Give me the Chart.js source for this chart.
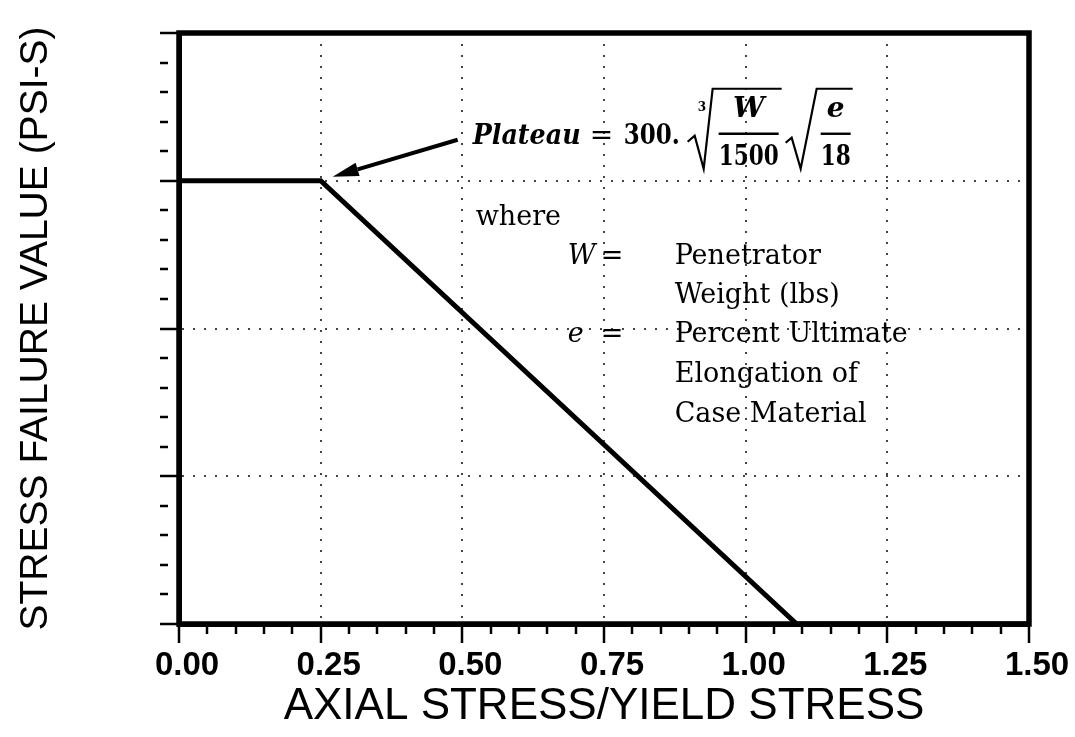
<!DOCTYPE html>
<html>
<head>
<meta charset="utf-8">
<script src="https://cdn.jsdelivr.net/npm/chart.js@4.4.0/dist/chart.umd.min.js"></script>
<style>
  html, body { margin: 0; padding: 0; background: #fff; }
  #wrap { width: 1075px; height: 737px; position: relative; }
</style>
</head>
<body>
<div id="wrap"><canvas id="chart"></canvas></div>
<script>
// stress failure value vs axial stress / yield stress
const axialRatio = [0, 0.25, 1.09, 1.5];
const failureValue = [3, 3, 0, 0];
const xTickLabels = ['0.00', '0.25', '0.50', '0.75', '1.00', '1.25', '1.50'];
const xMajorStep = 0.25;
const xMinorStep = 0.05;
const yMajorStep = 1;
const yMinorStep = 0.2;

const isMajor = (v, step) => Math.abs(v / step - Math.round(v / step)) < 1e-6;

// thick frame round the plot area
const frame = {
    id: 'frame',
    afterDatasetsDraw(chart) {
        const { ctx, chartArea: a } = chart;
        ctx.save();
        ctx.lineWidth = 5.5;
        ctx.strokeStyle = '#000';
        ctx.lineJoin = 'miter';
        ctx.strokeRect(a.left, a.top, a.right - a.left, a.bottom - a.top);
        ctx.restore();
    }
};

// formula, arrow and notes
const notes = {
    id: 'notes',
    afterDraw(chart) {
        const ctx = chart.ctx;
        const sx = chart.scales.x, sy = chart.scales.y;
        // arrow tip sits just off the plateau corner
        const tx = sx.getPixelForValue(axialRatio[1]) + 12;
        const ty = sy.getPixelForValue(failureValue[1]) - 4;
        const P = (ax, ay) => [ax - 332 + tx, ay - 176 + ty];

        ctx.save();
        ctx.fillStyle = '#000';
        ctx.strokeStyle = '#000';
        ctx.textBaseline = 'alphabetic';

        // arrow
        const [x0, y0] = P(457, 139);
        const ang = Math.atan2(ty - y0, tx - x0);
        const hl = 26, hw = 7;
        const bx = tx - hl * Math.cos(ang), by = ty - hl * Math.sin(ang);
        ctx.lineWidth = 4;
        ctx.beginPath();
        ctx.moveTo(x0, y0);
        ctx.lineTo(bx, by);
        ctx.stroke();
        ctx.beginPath();
        ctx.moveTo(tx, ty);
        ctx.lineTo(bx + hw * Math.sin(ang), by - hw * Math.cos(ang));
        ctx.lineTo(bx - hw * Math.sin(ang), by + hw * Math.cos(ang));
        ctx.closePath();
        ctx.fill();

        const text = (s, ax, ay, font, align, maxW) => {
            const [px, py] = P(ax, ay);
            ctx.font = font;
            ctx.textAlign = align || 'left';
            if (maxW) ctx.fillText(s, px, py, maxW); else ctx.fillText(s, px, py);
        };
        const path = (pts, w) => {
            ctx.lineWidth = w;
            ctx.beginPath();
            pts.forEach((p, i) => {
                const [px, py] = P(p[0], p[1]);
                if (i === 0) ctx.moveTo(px, py); else ctx.lineTo(px, py);
            });
            ctx.stroke();
        };

        const fBold = 'bold 28px "DejaVu Serif"';
        const fBoldIt = 'bold italic 28px "DejaVu Serif"';
        const fEq = '28px "DejaVu Serif"';
        text('Plateau', 472, 143, fBoldIt, 'left', 108);
        text('=', 589, 143, fEq, 'left');
        text('300.', 623, 143, fBold, 'left', 56);

        // cube root of W/1500
        path([[687, 141], [694, 135], [703, 168], [712, 88], [781, 88]], 2.2);
        text('3', 697, 110, 'bold 12px "DejaVu Serif"', 'left');
        text('W', 748, 116, fBoldIt, 'center');
        path([[718, 133], [778, 133]], 2.4);
        text('1500', 748, 164, fBold, 'center', 60);

        // square root of e/18
        path([[785, 142], [791, 137], [800, 168], [816, 88], [852, 88]], 2.2);
        text('e', 835, 116, fBoldIt, 'center');
        path([[820, 133], [850, 133]], 2.4);
        text('18', 835, 164, fBold, 'center', 30);

        const fTxt = '27px "DejaVu Serif"';
        const fIt = 'italic 27px "DejaVu Serif"';
        text('where', 475, 224, fTxt, 'left');
        text('W', 567, 263, fIt, 'left');
        text('=', 600, 263, fTxt, 'left');
        text('e', 567, 341, fIt, 'left');
        text('=', 600, 341, fTxt, 'left');
        text('Penetrator', 674, 263, fTxt, 'left');
        text('Weight (lbs)', 674, 302, fTxt, 'left');
        text('Percent Ultimate', 674, 341, fTxt, 'left');
        text('Elongation of', 674, 381, fTxt, 'left');
        text('Case Material', 674, 421, fTxt, 'left');
        ctx.restore();
    }
};

new Chart(document.getElementById('chart'), {
    type: 'line',
    data: {
        datasets: [{
            data: axialRatio.map((v, i) => ({ x: v, y: failureValue[i] })),
            borderColor: '#000',
            borderWidth: 5,
            pointRadius: 0,
            tension: 0,
            fill: false
        }]
    },
    options: {
        responsive: true,
        maintainAspectRatio: false,
        animation: false,
        devicePixelRatio: 1,
        layout: { padding: { top: 33, right: 46, left: 0, bottom: 0 } },
        plugins: {
            legend: { display: false },
            tooltip: { enabled: false }
        },
        scales: {
            x: {
                type: 'linear',
                min: 0,
                max: 1.5,
                afterFit: (scale) => { scale.height = 113; },
                ticks: {
                    stepSize: xMinorStep,
                    autoSkip: false,
                    maxRotation: 0,
                    minRotation: 0,
                    labelOffset: 8,
                    padding: 3,
                    color: '#000',
                    font: { family: '"Liberation Sans", Arial, sans-serif', size: 33, weight: 'bold' },
                    callback: (v) => isMajor(v, xMajorStep) ? xTickLabels[Math.round(v / xMajorStep)] : ''
                },
                grid: {
                    color: (c) => (c.tick && isMajor(c.tick.value, xMajorStep) && c.tick.value > 0 && c.tick.value < 1.5) ? '#444' : 'rgba(0,0,0,0)',
                    lineWidth: 2,
                    tickLength: 19,
                    tickWidth: 2.5,
                    tickColor: '#000',
                    tickBorderDash: (c) => (c.tick && isMajor(c.tick.value, xMajorStep)) ? [] : [7, 100]
                },
                border: { display: true, color: '#000', width: 5, dash: [2, 9] },
                title: {
                    display: true,
                    text: 'AXIAL STRESS/YIELD STRESS',
                    color: '#000',
                    font: { family: '"Liberation Sans", Arial, sans-serif', size: 44, lineHeight: 1.2 },
                    padding: { top: 0, bottom: 4 }
                }
            },
            y: {
                type: 'linear',
                min: 0,
                max: 4,
                afterFit: (scale) => { scale.width = 179; },
                ticks: {
                    stepSize: yMinorStep,
                    display: false
                },
                grid: {
                    color: (c) => (c.tick && isMajor(c.tick.value, yMajorStep) && c.tick.value > 0 && c.tick.value < 4) ? '#444' : 'rgba(0,0,0,0)',
                    lineWidth: 2,
                    tickLength: 19,
                    tickWidth: 2.5,
                    tickColor: '#000',
                    tickBorderDash: (c) => (c.tick && isMajor(c.tick.value, yMajorStep)) ? [] : [8, 100]
                },
                border: { display: true, color: '#000', width: 5, dash: [2, 9] },
                title: {
                    display: true,
                    text: 'STRESS FAILURE VALUE (PSI-S)',
                    color: '#000',
                    font: { family: '"Liberation Sans", Arial, sans-serif', size: 39, lineHeight: 1.2 },
                    padding: { top: 13, bottom: 0 }
                }
            }
        }
    },
    plugins: [frame, notes]
});
</script>
</body>
</html>
